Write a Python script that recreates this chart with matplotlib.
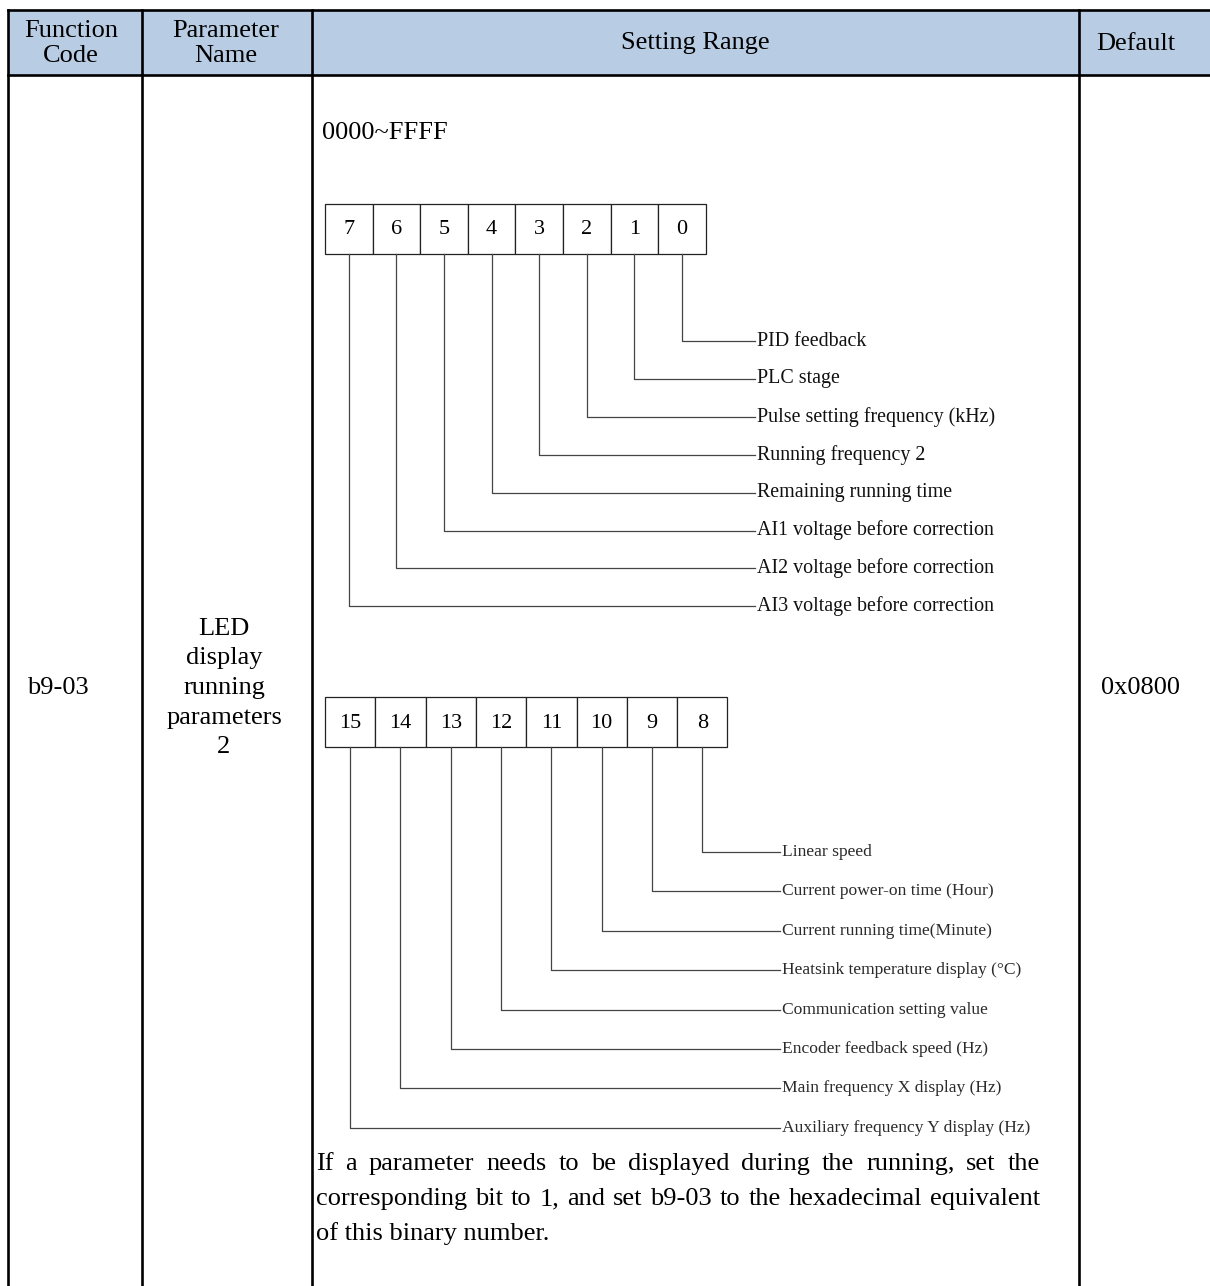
import matplotlib.pyplot as plt
from matplotlib.patches import Rectangle

plt.rcParams['font.family'] = ['Liberation Serif', 'DejaVu Serif']

# table content
headers = ['Function\nCode', 'Parameter\nName', 'Setting Range', 'Default']
func_code = 'b9-03'
param_name = 'LED\ndisplay\nrunning\nparameters\n2'
setting_range = '0000~FFFF'
default_value = '0x0800'

low_bits = [7, 6, 5, 4, 3, 2, 1, 0]
low_labels = ['PID feedback', 'PLC stage', 'Pulse setting frequency (kHz)',
              'Running frequency 2', 'Remaining running time',
              'AI1 voltage before correction', 'AI2 voltage before correction',
              'AI3 voltage before correction']
high_bits = [15, 14, 13, 12, 11, 10, 9, 8]
high_labels = ['Linear speed', 'Current power-on time (Hour)',
               'Current running time(Minute)', 'Heatsink temperature display (°C)',
               'Communication setting value', 'Encoder feedback speed (Hz)',
               'Main frequency X display (Hz)', 'Auxiliary frequency Y display (Hz)']
note = ("If a parameter needs to be displayed during the running, set the "
        "corresponding bit to 1, and set b9-03 to the hexadecimal equivalent "
        "of this binary number.")

W, H = 1210, 1286
fig = plt.figure(figsize=(W / 100, H / 100), dpi=100)
ax = fig.add_axes([0, 0, 1, 1])
ax.set_xlim(0, W)
ax.set_ylim(H, 0)
ax.axis('off')

cols = [8, 142, 312, 1079, 1300]
top, head_bot, bot = 10, 75, 1301
lw = 1.9
big = 19

# header
ax.add_patch(Rectangle((cols[0], top), cols[-1] - cols[0], head_bot - top,
                       facecolor='#b8cce4', edgecolor='none'))
for y in (top, head_bot):
    ax.plot([cols[0], W + 5], [y, y], color='black', lw=lw, solid_capstyle='projecting')
for x in cols[:4]:
    ax.plot([x, x], [top, bot], color='black', lw=lw)

hx = [71, 226, 695, 1136]
for x, h in zip(hx, headers):
    ax.text(x, (top + head_bot) / 2 + 1, h, ha='center', va='center',
            fontsize=big, linespacing=1.22)

ax.text(58, 688, func_code, ha='center', va='center', fontsize=big)
ax.text(224, 688, param_name, ha='center', va='center', fontsize=big, linespacing=1.45)
ax.text(1140, 688, default_value, ha='center', va='center', fontsize=big)
ax.text(322, 133, setting_range, ha='left', va='center', fontsize=big)


def bit_diagram(bits, labels, left, box_top, box_w, y0, dy, x_end, fs, tcolor):
    box_h = 50
    for i, b in enumerate(bits):
        x = left + i * box_w
        ax.add_patch(Rectangle((x, box_top), box_w, box_h, facecolor='white',
                               edgecolor='#222222', lw=0.9))
        ax.text(x + box_w / 2, box_top + box_h / 2 + 1, str(b), ha='center',
                va='center', fontsize=16)
    n = len(bits)
    for k, lab in enumerate(labels):
        i = n - 1 - k
        cx = left + i * box_w + box_w / 2
        y = y0 + k * dy
        ax.plot([cx, cx, x_end], [box_top + box_h, y, y], color='#444444', lw=0.9)
        ax.text(x_end + 2, y, lab, ha='left', va='center', fontsize=fs, color=tcolor)


bit_diagram(low_bits, low_labels, 325, 204, 47.6, 341, 37.9, 755, 14.4, '#111111')
bit_diagram(high_bits, high_labels, 325, 697, 50.3, 852, 39.4, 780, 12.6, '#2a2a2a')

# justified note paragraph
fig.canvas.draw()
r = fig.canvas.get_renderer()
x0, x1 = 316, 1040


def width(s):
    t = ax.text(0, 0, s, fontsize=big)
    w = t.get_window_extent(r).width
    t.remove()
    return w


words = note.split()
lines, cur = [], []
for w in words:
    if cur and width(' '.join(cur + [w])) > x1 - x0:
        lines.append(cur)
        cur = [w]
    else:
        cur.append(w)
lines.append(cur)

for j, ln in enumerate(lines):
    y = 1164 + j * 35
    if j == len(lines) - 1 or len(ln) == 1:
        ax.text(x0, y, ' '.join(ln), fontsize=big, va='center', ha='left')
        continue
    ws = [width(w) for w in ln]
    gap = (x1 - x0 - sum(ws)) / (len(ln) - 1)
    x = x0
    for w, wd in zip(ln, ws):
        ax.text(x, y, w, fontsize=big, va='center', ha='left')
        x += wd + gap

fig.savefig('out.png', dpi=100)
